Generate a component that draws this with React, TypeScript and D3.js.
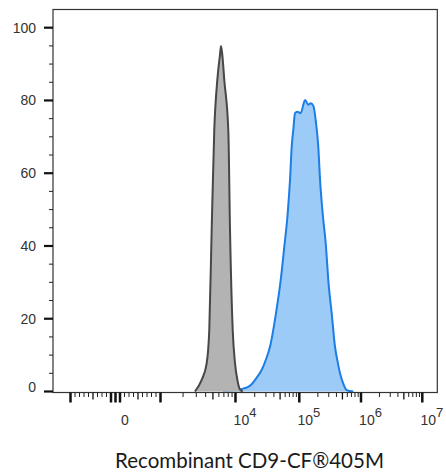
import React from "react";
import * as d3 from "d3";

// ---- data (intensity, % of max) ----
const controlValues: number[] = [2880, 3540, 4130, 4470, 4810, 5210, 5720, 6210, 6410, 6670, 7090, 8020, 8450, 9180, 9850, 10700, 11800, 13000];
const controlCounts: number[] = [0, 3.2, 7.8, 16.9, 44.4, 71.8, 85.6, 92.5, 95, 92.5, 85.6, 71.8, 44.4, 16.9, 7.8, 3.2, 0.5, 0];

const stainedValues: number[] = [6800, 11000, 13200, 15500, 17900, 21500, 25700, 30000, 34700, 43100, 51100, 58200, 65800, 71500, 76000, 80500, 85700, 93000, 105000, 124000, 140000, 153000, 169000, 187000, 203000, 217000, 239000, 271000, 295000, 335000, 379000, 420000, 457000, 520000, 586000, 750000];
const stainedCounts: number[] = [0.3, 0.5, 0.8, 1.2, 2.0, 3.8, 5.9, 8.8, 12.3, 21.5, 30.6, 39.8, 49.0, 58.1, 67.3, 71.9, 76.5, 76.9, 76.5, 80.1, 78.8, 79.2, 78.5, 73.7, 67.3, 58.1, 49.0, 39.8, 30.6, 21.5, 12.3, 8, 5.0, 2, 0.4, 0];

const yTicks: number[] = [0, 20, 40, 60, 80, 100];
const xLabelValues: number[] = [0, 1e4, 1e5, 1e6, 1e7];
const xMajorTicks: number[] = [-1e3, -1e2, 0, 1e2, 1e3, 1e4, 1e5, 1e6, 1e7];
const xTitle = "Recombinant CD9-CF®405M";

// axis calibration: decade anchors of the biexponential display
const xAnchors: number[] = [-1e3, 0, 1e3, 1e4, 1e5, 1e6, 1e7];
const xAnchorPx: number[] = [17.5, 62.5, 107.5, 182.5, 246.3, 308, 369.3];

const W = 446, H = 476;
const left = 53, top = 9.5, right = 437.3, bottom = 391.5;

const tf = (v: number) =>
  Math.abs(v) <= 1e3 ? v / 1e3 : Math.sign(v) * (1 + Math.log10(Math.abs(v) / 1e3));

export default function App() {
  const xs = d3.scaleLinear().domain(xAnchors.map(tf)).range(xAnchorPx.map((p) => p + left));
  const x = (v: number) => xs(tf(v));
  const y = d3.scaleLinear().domain([0, 105]).range([bottom, top]);

  const control = controlValues.map((v, i) => [v, controlCounts[i]] as [number, number]);
  const stained = stainedValues.map((v, i) => [v, stainedCounts[i]] as [number, number]);

  const area = d3.area<[number, number]>().x((d) => x(d[0])).y0(y(0)).y1((d) => y(d[1])).curve(d3.curveMonotoneX);
  const line = d3.line<[number, number]>().x((d) => x(d[0])).y((d) => y(d[1])).curve(d3.curveMonotoneX);

  // minor ticks
  const minor: number[] = [];
  const medium: number[] = [];
  for (let k = 2; k <= 9; k++) {
    (k === 5 ? medium : minor).push(k * 100, -k * 100);
  }
  for (let e = 3; e < 7; e++) {
    for (let k = 2; k <= 9; k++) (k === 5 ? medium : minor).push(k * Math.pow(10, e));
  }

  const yMinor = d3.range(5, 100, 5).filter((v) => v % 20 !== 0);
  const axisY = 392.5;
  const font = "'Liberation Sans', Arial, sans-serif";

  return (
    <svg width={W} height={H} style={{ position: "absolute", left: 0, top: 0, background: "#fff" }}>
      <path d={area(stained) || ""} fill="#9dcbf7" />
      <path d={line(stained) || ""} fill="none" stroke="#1b7de6" strokeWidth={2} />
      <path d={area(control) || ""} fill="#b3b3b3" />
      <path d={line(control) || ""} fill="none" stroke="#474747" strokeWidth={2} />

      {/* frame */}
      <rect x={left} y={top} width={right - left} height={axisY - top} fill="none" stroke="#333" strokeWidth={1.2} />

      {/* y ticks */}
      {yTicks.map((v) => (
        <g key={"y" + v}>
          <line x1={left - 9} x2={left} y1={y(v)} y2={y(v)} stroke="#111" strokeWidth={2.2} />
          <text x={36} y={y(v) - (v === 0 ? 5 : 0)} dy="0.36em" textAnchor="end" fontSize={14} fontFamily={font} fill="#333">
            {v}
          </text>
        </g>
      ))}
      {yMinor.map((v) => (
        <line key={"ym" + v} x1={left - 4} x2={left} y1={y(v)} y2={y(v)} stroke="#222" strokeWidth={1} />
      ))}

      {/* x ticks */}
      {xMajorTicks.map((v) => (
        <line key={"xM" + v} x1={x(v)} x2={x(v)} y1={axisY} y2={axisY + 10} stroke="#111" strokeWidth={2.5} />
      ))}
      {medium.map((v) => (
        <line key={"xd" + v} x1={x(v)} x2={x(v)} y1={axisY} y2={axisY + 7} stroke="#111" strokeWidth={1.3} />
      ))}
      {minor.map((v) => (
        <line key={"xm" + v} x1={x(v)} x2={x(v)} y1={axisY} y2={axisY + 4.5} stroke="#222" strokeWidth={1} />
      ))}
      {xLabelValues.map((v) => (
        <text key={"xl" + v} x={x(v) + 9.5} y={425} textAnchor="middle" fontSize={14} fontFamily={font} fill="#333">
          {v === 0 ? (
            "0"
          ) : (
            <>
              {"10"}
              <tspan dy={-8} fontSize={13}>
                {Math.round(Math.log10(v))}
              </tspan>
            </>
          )}
        </text>
      ))}

      <text x={249.5} y={468} textAnchor="middle" fontSize={20.5} fontFamily="Lato, sans-serif" fill="#1a1a1a">
        {xTitle}
      </text>
    </svg>
  );
}
